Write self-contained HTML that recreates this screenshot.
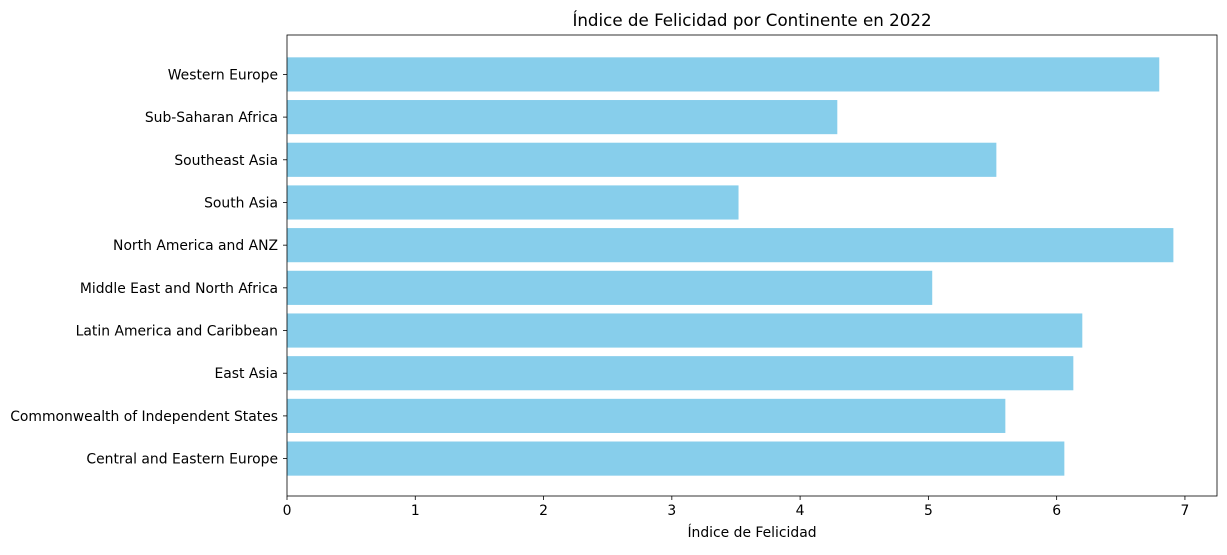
<!DOCTYPE html>
<html><head><meta charset="utf-8"><style>
body{margin:0;background:#fff;font-family:"Liberation Sans","DejaVu Sans",sans-serif;}
svg text{font-family:"DejaVu Sans","Liberation Sans",sans-serif;fill:#000}
</style></head><body>
<svg id="chart" width="1227" height="550" xmlns="http://www.w3.org/2000/svg"></svg>
<script>
const categories=["Central and Eastern Europe","Commonwealth of Independent States","East Asia","Latin America and Caribbean","Middle East and North Africa","North America and ANZ","South Asia","Southeast Asia","Sub-Saharan Africa","Western Europe"];
const values=[6.06,5.60,6.13,6.20,5.03,6.91,3.52,5.53,4.29,6.80];
const xTicks=[0,1,2,3,4,5,6,7];
const NS="http://www.w3.org/2000/svg";
const svg=document.getElementById('chart');
const L=287,R=1217,T=35,B=496,xMax=7.25;
const n=categories.length;
const y0=-0.9, y1=n-0.1;
function X(v){return L+v/xMax*(R-L);}
function Y(i){return B-(i-y0)/(y1-y0)*(B-T)+1;}
const step=(B-T)/(y1-y0);
function mk(tag,attrs,parent){const e=document.createElementNS(NS,tag);for(const k in attrs)e.setAttribute(k,attrs[k]);(parent||svg).appendChild(e);return e;}
for(let i=0;i<n;i++){
  const r=mk('rect',{x:X(0),y:Y(i)-0.4*step,width:X(values[i])-X(0),height:0.8*step,fill:'#87ceeb'});
  
  
  const tk=mk('line',{x1:L-4,x2:L,y1:Y(i),y2:Y(i),stroke:'#000','stroke-width':0.8});
  
  
  const t=mk('text',{x:L-9,y:Y(i)+5,'text-anchor':'end','font-size':13.9});
  t.textContent=categories[i];
  
  
}
xTicks.forEach(v=>{
  const tk=mk('line',{x1:X(v),x2:X(v),y1:B,y2:B+4,stroke:'#000','stroke-width':0.8});
  
  
  const t=mk('text',{x:X(v),y:B+19,'text-anchor':'middle','font-size':13.9});
  t.textContent=v;
  
  
});
const frame=mk('rect',{x:L,y:T,width:R-L,height:B-T,fill:'none',stroke:'#000','stroke-width':0.8});


const xt=mk('text',{x:(L+R)/2,y:537,'text-anchor':'middle','font-size':13.9});
xt.textContent='Índice de Felicidad';


const ti=mk('text',{x:(L+R)/2,y:26,'text-anchor':'middle','font-size':16.7});
ti.textContent='Índice de Felicidad por Continente en 2022';


</script>
</body></html>
